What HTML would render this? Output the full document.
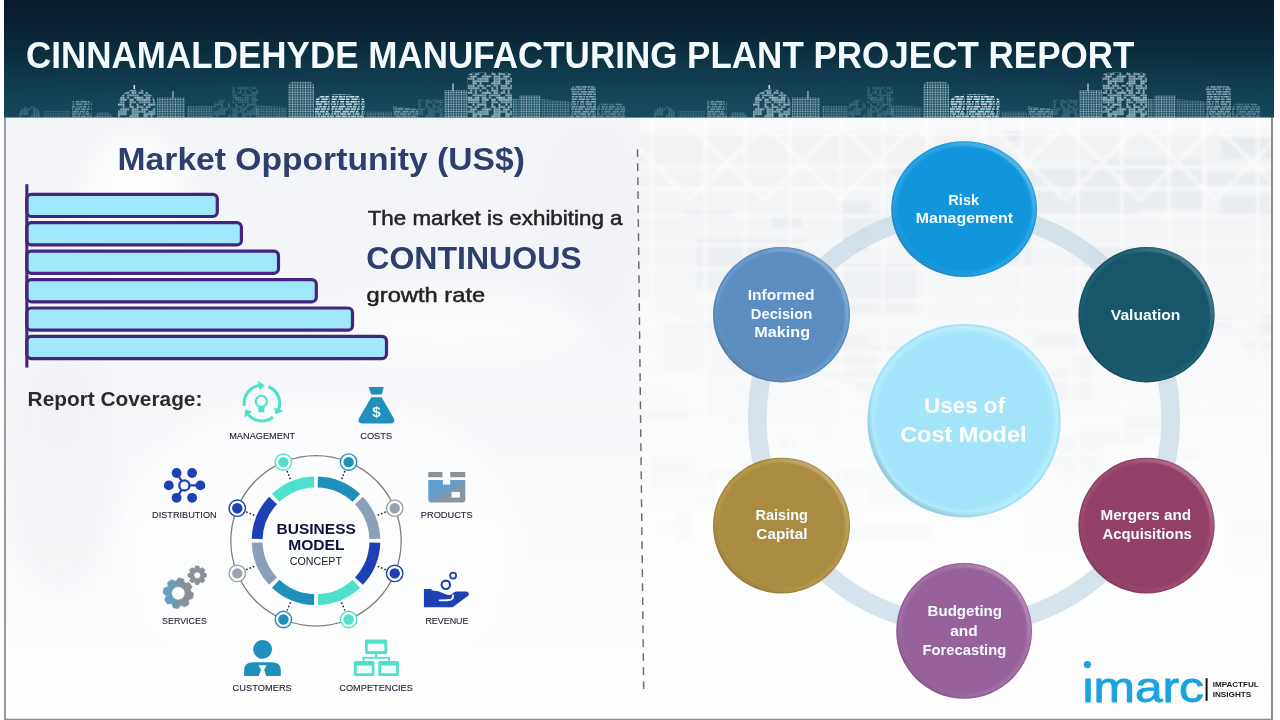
<!DOCTYPE html>
<html lang="en"><head><meta charset="utf-8"><title>Cinnamaldehyde Manufacturing Plant Project Report</title>
<style>
html,body{margin:0;padding:0;background:#fff}
body{width:1280px;height:720px;overflow:hidden;position:relative;font-family:"Liberation Sans",Arial,sans-serif}
svg{position:absolute;left:0;top:0;display:block}
text{font-family:"Liberation Sans",Arial,sans-serif}
.b{font-weight:bold}
</style></head><body>
<svg width="1280" height="720" viewBox="0 0 1280 720">
<defs>
<linearGradient id="ban" x1="0" y1="0" x2="0" y2="1">
<stop offset="0" stop-color="#0a1a2b"/><stop offset="0.3" stop-color="#0b2637"/><stop offset="0.62" stop-color="#0d3647"/><stop offset="1" stop-color="#144658"/>
</linearGradient>
<radialGradient id="banr" cx="0.5" cy="1.1" r="0.75" gradientTransform="matrix(1 0 0 1 0 0)">
<stop offset="0" stop-color="#1a5565" stop-opacity="0.45"/><stop offset="1" stop-color="#1d5a6a" stop-opacity="0"/>
</radialGradient>
<linearGradient id="bgl" x1="0" y1="0" x2="0" y2="1">
<stop offset="0" stop-color="#f3f4f7"/><stop offset="0.4" stop-color="#f5f6f9"/><stop offset="0.8" stop-color="#fafbfc"/><stop offset="1" stop-color="#fdfefe"/>
</linearGradient>
<linearGradient id="bgr" x1="0" y1="0" x2="0" y2="1">
<stop offset="0" stop-color="#f0f2f4"/><stop offset="0.25" stop-color="#f5f6f8"/><stop offset="0.6" stop-color="#fbfcfc"/><stop offset="1" stop-color="#fefefe"/>
</linearGradient>

<radialGradient id="c1" cx="0.5" cy="0.5" r="0.5"><stop offset="0" stop-color="#1296db"/><stop offset="0.9" stop-color="#1296db"/><stop offset="0.965" stop-color="#2aa6e6"/><stop offset="1" stop-color="#0f8fd2"/></radialGradient>
<radialGradient id="c2" cx="0.5" cy="0.5" r="0.5"><stop offset="0" stop-color="#17566b"/><stop offset="0.9" stop-color="#17566b"/><stop offset="0.965" stop-color="#1f6377"/><stop offset="1" stop-color="#124a5d"/></radialGradient>
<radialGradient id="c3" cx="0.5" cy="0.5" r="0.5"><stop offset="0" stop-color="#934068"/><stop offset="0.9" stop-color="#934068"/><stop offset="0.965" stop-color="#a04d75"/><stop offset="1" stop-color="#86385d"/></radialGradient>
<radialGradient id="c4" cx="0.5" cy="0.5" r="0.5"><stop offset="0" stop-color="#97619b"/><stop offset="0.9" stop-color="#97619b"/><stop offset="0.965" stop-color="#a671aa"/><stop offset="1" stop-color="#8a558e"/></radialGradient>
<radialGradient id="c5" cx="0.5" cy="0.5" r="0.5"><stop offset="0" stop-color="#a98b42"/><stop offset="0.9" stop-color="#a98b42"/><stop offset="0.965" stop-color="#b6994f"/><stop offset="1" stop-color="#9b7e38"/></radialGradient>
<radialGradient id="c6" cx="0.5" cy="0.5" r="0.5"><stop offset="0" stop-color="#5b8dc0"/><stop offset="0.9" stop-color="#5b8dc0"/><stop offset="0.965" stop-color="#6d9bca"/><stop offset="1" stop-color="#4f81b4"/></radialGradient>
<radialGradient id="c0" cx="0.5" cy="0.5" r="0.5"><stop offset="0" stop-color="#a3e4fa"/><stop offset="0.9" stop-color="#a3e4fa"/><stop offset="0.965" stop-color="#b7ecfd"/><stop offset="1" stop-color="#98dcf4"/></radialGradient>
<linearGradient id="bev" x1="0.12" y1="0.88" x2="0.88" y2="0.12"><stop offset="0" stop-color="#000" stop-opacity="0.13"/><stop offset="0.3" stop-color="#000" stop-opacity="0"/><stop offset="0.7" stop-color="#fff" stop-opacity="0"/><stop offset="1" stop-color="#fff" stop-opacity="0.2"/></linearGradient>
<clipPath id="bclip"><rect x="4" y="1" width="1270" height="116.5"/></clipPath></defs>
<rect width="1280" height="720" fill="#ffffff"/>
<rect x="4" y="116" width="636" height="603" fill="url(#bgl)"/>
<rect x="640" y="116" width="633" height="603" fill="url(#bgr)"/>
<defs><filter id="bl" x="-5%" y="-5%" width="110%" height="110%"><feGaussianBlur stdDeviation="1.6"/></filter>
<filter id="bl2" x="-20%" y="-20%" width="140%" height="140%"><feGaussianBlur stdDeviation="14"/></filter>
<linearGradient id="fadeR" x1="0" y1="0" x2="0" y2="1"><stop offset="0" stop-color="#fff" stop-opacity="0.95"/><stop offset="0.22" stop-color="#fff" stop-opacity="0.7"/><stop offset="0.45" stop-color="#fff" stop-opacity="0.35"/><stop offset="0.8" stop-color="#fff" stop-opacity="0.1"/><stop offset="1" stop-color="#fff" stop-opacity="0"/></linearGradient>
<mask id="mR"><rect x="640" y="117" width="633" height="602" fill="url(#fadeR)"/></mask>
<clipPath id="cR"><rect x="640" y="117" width="631" height="601"/></clipPath>
<clipPath id="cL"><rect x="6" y="118" width="632" height="600"/></clipPath>
</defs>
<g clip-path="url(#cR)"><g mask="url(#mR)"><g filter="url(#bl)">
<path d="M1032 437h110v8h-110zM1169 451h30v8h-30zM1208 173h70v12h-70zM880 168h30v8h-30zM1101 296h30v34h-30zM741 460h30v50h-30zM1029 178h18v8h-18zM772 216h30v12h-30zM822 529h110v12h-110zM754 532h30v34h-30zM828 277h30v12h-30zM806 264h110v50h-110zM642 410h46v8h-46zM835 469h70v20h-70zM756 323h30v8h-30zM801 519h46v34h-46zM651 456h46v34h-46zM1004 129h18v12h-18zM1033 526h18v12h-18zM1226 521h46v50h-46zM864 345h70v8h-70zM1012 453h46v20h-46zM663 522h18v12h-18zM855 382h30v20h-30zM814 420h18v20h-18zM1072 254h18v12h-18zM1094 255h70v12h-70zM1094 159h110v50h-110zM1222 138h110v20h-110zM1161 316h70v12h-70zM675 510h18v34h-18zM851 212h110v12h-110zM1037 456h18v12h-18zM914 188h70v20h-70zM729 512h110v12h-110zM1255 315h70v20h-70zM942 247h70v12h-70zM711 470h110v12h-110zM1035 335h46v12h-46zM696 239h110v50h-110zM868 455h46v50h-46zM1058 444h46v50h-46zM1084 243h70v20h-70zM1125 415h46v20h-46zM1049 369h18v34h-18zM985 230h46v34h-46zM822 335h46v20h-46zM813 270h70v20h-70zM1221 197h70v20h-70zM1243 343h110v12h-110zM765 277h70v20h-70zM1076 427h70v12h-70zM1029 518h110v34h-110zM831 357h46v8h-46zM763 371h110v12h-110zM778 413h18v34h-18zM1257 195h30v8h-30zM840 201h30v50h-30zM662 320h70v50h-70zM685 211h46v8h-46zM861 525h70v8h-70zM1074 355h18v50h-18zM1027 165h110v50h-110zM854 369h46v12h-46zM904 466h110v20h-110zM935 191h70v50h-70zM941 209h30v50h-30zM697 470h18v34h-18zM708 363h110v50h-110zM729 389h110v34h-110z" fill="#d9dee3" opacity="0.4"/>
<path d="M640 134H1272M640 167H1272M640 189H1272M640 216H1272M640 245H1272M640 269H1272M640 301H1272M640 321H1272M640 352H1272M640 380H1272M640 403H1272M640 430H1272M640 454H1272M640 490H1272M640 511H1272M640 544H1272M652 120V385M705 120V572M745 120V388M790 120V458M841 120V492M883 120V475M927 120V478M984 120V524M1022 120V478M1078 120V484M1122 120V556M1169 120V383M1204 120V436M1258 120V503" stroke="#fff" stroke-width="3" fill="none" opacity="0.75"/>
<path d="M620 130L690 200M690 200L760 130M695 130L765 200M765 200L835 130M770 130L840 200M840 200L910 130M845 130L915 200M915 200L985 130M920 130L990 200M990 200L1060 130M995 130L1065 200M1065 200L1135 130M1070 130L1140 200M1140 200L1210 130M1145 130L1215 200M1215 200L1285 130M1220 130L1290 200M1290 200L1360 130" stroke="#fff" stroke-width="4" fill="none" opacity="0.6"/>
<path d="M640 300L1272 560V640L640 380Z" fill="#fff" opacity="0.5"/>
</g></g></g>
<rect x="640" y="117" width="631" height="14" fill="#fff" opacity="0.55"/>
<g clip-path="url(#cL)" filter="url(#bl2)">
<ellipse cx="135" cy="215" rx="55" ry="85" fill="#fff" opacity="0.75"/>
<ellipse cx="450" cy="330" rx="140" ry="40" fill="#fff" opacity="0.5"/>
<ellipse cx="320" cy="545" rx="200" ry="150" fill="#fff" opacity="0.55"/>
<ellipse cx="60" cy="470" rx="50" ry="120" fill="#eceef2" opacity="0.4"/>
<ellipse cx="590" cy="230" rx="40" ry="90" fill="#eceef2" opacity="0.4"/>
</g>
<rect x="4" y="117" width="2" height="602" fill="#9a9a9a"/>
<rect x="1271" y="117" width="2" height="602" fill="#8c8c8c"/>
<rect x="4" y="718.7" width="1269" height="1.3" fill="#8e8e8e"/>
<rect x="4" y="0" width="1270" height="117.5" fill="url(#ban)"/>
<rect x="4" y="0" width="1270" height="117.5" fill="url(#banr)"/>
<g clip-path="url(#bclip)"><defs>
<pattern id="pA" width="32.90" height="32.90" patternUnits="userSpaceOnUse"><path d="M0.35 0.35h1.65v1.65h-1.65zM0.35 2.70h1.65v1.65h-1.65zM0.35 7.40h1.65v1.65h-1.65zM0.35 9.75h1.65v1.65h-1.65zM0.35 12.10h1.65v1.65h-1.65zM0.35 14.45h1.65v1.65h-1.65zM0.35 16.80h1.65v1.65h-1.65zM0.35 19.15h1.65v1.65h-1.65zM0.35 23.85h1.65v1.65h-1.65zM0.35 26.20h1.65v1.65h-1.65zM0.35 28.55h1.65v1.65h-1.65zM2.70 2.70h1.65v1.65h-1.65zM2.70 9.75h1.65v1.65h-1.65zM2.70 12.10h1.65v1.65h-1.65zM2.70 14.45h1.65v1.65h-1.65zM2.70 16.80h1.65v1.65h-1.65zM2.70 19.15h1.65v1.65h-1.65zM2.70 21.50h1.65v1.65h-1.65zM2.70 23.85h1.65v1.65h-1.65zM2.70 26.20h1.65v1.65h-1.65zM2.70 28.55h1.65v1.65h-1.65zM2.70 30.90h1.65v1.65h-1.65zM5.05 0.35h1.65v1.65h-1.65zM5.05 5.05h1.65v1.65h-1.65zM5.05 7.40h1.65v1.65h-1.65zM5.05 9.75h1.65v1.65h-1.65zM5.05 12.10h1.65v1.65h-1.65zM5.05 14.45h1.65v1.65h-1.65zM5.05 16.80h1.65v1.65h-1.65zM5.05 28.55h1.65v1.65h-1.65zM5.05 30.90h1.65v1.65h-1.65zM7.40 0.35h1.65v1.65h-1.65zM7.40 2.70h1.65v1.65h-1.65zM7.40 7.40h1.65v1.65h-1.65zM7.40 12.10h1.65v1.65h-1.65zM7.40 19.15h1.65v1.65h-1.65zM7.40 21.50h1.65v1.65h-1.65zM7.40 26.20h1.65v1.65h-1.65zM7.40 30.90h1.65v1.65h-1.65zM9.75 0.35h1.65v1.65h-1.65zM9.75 2.70h1.65v1.65h-1.65zM9.75 7.40h1.65v1.65h-1.65zM9.75 9.75h1.65v1.65h-1.65zM9.75 12.10h1.65v1.65h-1.65zM9.75 19.15h1.65v1.65h-1.65zM9.75 21.50h1.65v1.65h-1.65zM9.75 23.85h1.65v1.65h-1.65zM9.75 26.20h1.65v1.65h-1.65zM9.75 30.90h1.65v1.65h-1.65zM12.10 0.35h1.65v1.65h-1.65zM12.10 2.70h1.65v1.65h-1.65zM12.10 5.05h1.65v1.65h-1.65zM12.10 9.75h1.65v1.65h-1.65zM12.10 12.10h1.65v1.65h-1.65zM12.10 14.45h1.65v1.65h-1.65zM12.10 16.80h1.65v1.65h-1.65zM12.10 19.15h1.65v1.65h-1.65zM12.10 21.50h1.65v1.65h-1.65zM12.10 28.55h1.65v1.65h-1.65zM14.45 0.35h1.65v1.65h-1.65zM14.45 2.70h1.65v1.65h-1.65zM14.45 7.40h1.65v1.65h-1.65zM14.45 9.75h1.65v1.65h-1.65zM14.45 14.45h1.65v1.65h-1.65zM14.45 16.80h1.65v1.65h-1.65zM14.45 21.50h1.65v1.65h-1.65zM14.45 23.85h1.65v1.65h-1.65zM14.45 26.20h1.65v1.65h-1.65zM14.45 28.55h1.65v1.65h-1.65zM14.45 30.90h1.65v1.65h-1.65zM16.80 0.35h1.65v1.65h-1.65zM16.80 2.70h1.65v1.65h-1.65zM16.80 5.05h1.65v1.65h-1.65zM16.80 7.40h1.65v1.65h-1.65zM16.80 12.10h1.65v1.65h-1.65zM16.80 14.45h1.65v1.65h-1.65zM16.80 19.15h1.65v1.65h-1.65zM16.80 21.50h1.65v1.65h-1.65zM16.80 28.55h1.65v1.65h-1.65zM16.80 30.90h1.65v1.65h-1.65zM19.15 5.05h1.65v1.65h-1.65zM19.15 12.10h1.65v1.65h-1.65zM19.15 14.45h1.65v1.65h-1.65zM19.15 16.80h1.65v1.65h-1.65zM19.15 19.15h1.65v1.65h-1.65zM19.15 23.85h1.65v1.65h-1.65zM19.15 28.55h1.65v1.65h-1.65zM21.50 0.35h1.65v1.65h-1.65zM21.50 2.70h1.65v1.65h-1.65zM21.50 5.05h1.65v1.65h-1.65zM21.50 9.75h1.65v1.65h-1.65zM21.50 12.10h1.65v1.65h-1.65zM21.50 14.45h1.65v1.65h-1.65zM21.50 19.15h1.65v1.65h-1.65zM21.50 21.50h1.65v1.65h-1.65zM21.50 26.20h1.65v1.65h-1.65zM21.50 28.55h1.65v1.65h-1.65zM21.50 30.90h1.65v1.65h-1.65zM23.85 0.35h1.65v1.65h-1.65zM23.85 2.70h1.65v1.65h-1.65zM23.85 5.05h1.65v1.65h-1.65zM23.85 7.40h1.65v1.65h-1.65zM23.85 9.75h1.65v1.65h-1.65zM23.85 12.10h1.65v1.65h-1.65zM23.85 14.45h1.65v1.65h-1.65zM23.85 21.50h1.65v1.65h-1.65zM23.85 26.20h1.65v1.65h-1.65zM23.85 28.55h1.65v1.65h-1.65zM23.85 30.90h1.65v1.65h-1.65zM26.20 0.35h1.65v1.65h-1.65zM26.20 9.75h1.65v1.65h-1.65zM26.20 12.10h1.65v1.65h-1.65zM26.20 14.45h1.65v1.65h-1.65zM26.20 19.15h1.65v1.65h-1.65zM26.20 23.85h1.65v1.65h-1.65zM26.20 26.20h1.65v1.65h-1.65zM28.55 9.75h1.65v1.65h-1.65zM28.55 19.15h1.65v1.65h-1.65zM28.55 26.20h1.65v1.65h-1.65zM28.55 28.55h1.65v1.65h-1.65zM28.55 30.90h1.65v1.65h-1.65zM30.90 0.35h1.65v1.65h-1.65zM30.90 2.70h1.65v1.65h-1.65zM30.90 5.05h1.65v1.65h-1.65zM30.90 7.40h1.65v1.65h-1.65zM30.90 16.80h1.65v1.65h-1.65zM30.90 21.50h1.65v1.65h-1.65zM30.90 23.85h1.65v1.65h-1.65zM30.90 28.55h1.65v1.65h-1.65z" fill="#d4ecf4"/></pattern>
<pattern id="pB" width="2.6" height="2.4" patternUnits="userSpaceOnUse"><rect x="0.55" y="0.45" width="1.45" height="1.4" fill="#d4ecf4"/></pattern>
<pattern id="pC" width="30" height="29.40" patternUnits="userSpaceOnUse"><path d="M0.06 0.40h6.50v1.5h-6.50zM7.36 0.40h5.20v1.5h-5.20zM13.36 0.40h2.60v1.5h-2.60zM17.56 0.40h1.60v1.5h-1.60zM20.06 0.40h6.50v1.5h-6.50zM28.16 0.40h1.44v1.5h-1.44zM1.79 2.85h3.80v1.5h-3.80zM6.49 2.85h2.60v1.5h-2.60zM10.69 2.85h6.50v1.5h-6.50zM17.99 2.85h6.50v1.5h-6.50zM25.29 2.85h3.80v1.5h-3.80zM1.86 5.30h5.20v1.5h-5.20zM7.86 5.30h3.80v1.5h-3.80zM12.56 5.30h3.80v1.5h-3.80zM17.16 5.30h5.20v1.5h-5.20zM23.16 5.30h2.60v1.5h-2.60zM26.66 5.30h2.60v1.5h-2.60zM1.84 7.75h2.60v1.5h-2.60zM5.24 7.75h2.60v1.5h-2.60zM8.74 7.75h3.80v1.5h-3.80zM13.34 7.75h1.60v1.5h-1.60zM15.84 7.75h2.60v1.5h-2.60zM19.24 7.75h5.20v1.5h-5.20zM25.34 7.75h3.80v1.5h-3.80zM1.66 10.20h5.20v1.5h-5.20zM8.46 10.20h6.50v1.5h-6.50zM15.86 10.20h3.80v1.5h-3.80zM21.26 10.20h6.50v1.5h-6.50zM28.66 10.20h0.94v1.5h-0.94zM1.66 12.65h3.80v1.5h-3.80zM7.06 12.65h1.60v1.5h-1.60zM10.26 12.65h3.80v1.5h-3.80zM15.66 12.65h3.80v1.5h-3.80zM20.36 12.65h6.50v1.5h-6.50zM27.66 12.65h1.94v1.5h-1.94zM0.91 15.10h1.60v1.5h-1.60zM3.41 15.10h2.60v1.5h-2.60zM6.81 15.10h1.60v1.5h-1.60zM10.01 15.10h1.60v1.5h-1.60zM12.51 15.10h1.60v1.5h-1.60zM15.71 15.10h6.50v1.5h-6.50zM23.81 15.10h3.80v1.5h-3.80zM28.41 15.10h1.19v1.5h-1.19zM1.65 17.55h3.80v1.5h-3.80zM6.25 17.55h1.60v1.5h-1.60zM8.75 17.55h6.50v1.5h-6.50zM16.85 17.55h1.60v1.5h-1.60zM19.25 17.55h2.60v1.5h-2.60zM22.75 17.55h3.80v1.5h-3.80zM28.15 17.55h1.45v1.5h-1.45zM1.23 20.00h2.60v1.5h-2.60zM4.73 20.00h2.60v1.5h-2.60zM8.13 20.00h5.20v1.5h-5.20zM14.93 20.00h5.20v1.5h-5.20zM20.93 20.00h5.20v1.5h-5.20zM27.03 20.00h2.57v1.5h-2.57zM1.77 22.45h1.60v1.5h-1.60zM4.27 22.45h6.50v1.5h-6.50zM12.37 22.45h6.50v1.5h-6.50zM19.77 22.45h5.20v1.5h-5.20zM25.87 22.45h2.60v1.5h-2.60zM1.44 24.90h1.60v1.5h-1.60zM3.84 24.90h2.60v1.5h-2.60zM7.34 24.90h1.60v1.5h-1.60zM9.84 24.90h6.50v1.5h-6.50zM17.24 24.90h3.80v1.5h-3.80zM22.64 24.90h1.60v1.5h-1.60zM25.14 24.90h4.46v1.5h-4.46zM0.07 27.35h3.80v1.5h-3.80zM5.47 27.35h5.20v1.5h-5.20zM11.57 27.35h5.20v1.5h-5.20zM17.57 27.35h2.60v1.5h-2.60zM20.97 27.35h5.20v1.5h-5.20zM26.97 27.35h2.60v1.5h-2.60z" fill="#d4ecf4"/></pattern>
</defs>
<g id="skyA">
<path d="M19 117.6V114.9A10.5 8.9 0 0 1 40 114.9V117.6Z" fill="url(#pA)" opacity="0.32"/>
<path d="M43 117.6V111H70V117.6Z" fill="url(#pB)" opacity="0.28"/>
<path d="M72 117.6V102.7Q72 99.7 82.0 99.7Q92 99.7 92 102.7V117.6Z" fill="url(#pC)" opacity="0.5"/>
<path d="M94 117.6L98 112H109L113 117.6Z" fill="url(#pB)" opacity="0.5"/>
<path d="M118 117.6V103.9A18.8 15.9 0 0 1 155.5 103.9V117.6Z" fill="url(#pA)" opacity="0.95"/>
<rect x="133.5" y="85" width="1.6" height="4.0" fill="#d4ecf4" opacity="0.95"/>
<path d="M157 117.6V97.5H185V117.6Z" fill="url(#pB)" opacity="0.8"/>
<rect x="172.4" y="91" width="1.1" height="7.5" fill="#d4ecf4" opacity="0.8"/>
<path d="M187 117.6V106H212.5V117.6Z" fill="url(#pB)" opacity="0.5"/>
<path d="M213 117.6V107.4A9.0 7.6 0 0 1 231 107.4V117.6Z" fill="url(#pA)" opacity="0.3"/>
<path d="M232 117.6V86.7H258V117.6Z" fill="url(#pA)" opacity="0.3"/>
<path d="M256 117.6V104.8L287 107.3V117.6Z" fill="url(#pB)" opacity="0.45"/>
<path d="M288 117.6V86.7Q288 81.7 294 81.7H308Q314 81.7 314 86.7V117.6Z" fill="url(#pB)" opacity="0.9"/>
<path d="M315 117.6V101.2Q315 94.2 339.75 94.2Q364.5 94.2 364.5 101.2V117.6Z" fill="url(#pC)" opacity="0.95"/>
<path d="M366 117.6V111.7H392V117.6Z" fill="url(#pB)" opacity="0.5"/>
<path d="M393 117.6V106.5L418 109V117.6Z" fill="url(#pC)" opacity="0.55"/>
<path d="M418 117.6V99.7H443V117.6Z" fill="url(#pA)" opacity="0.3"/>
<path d="M444 117.6V90H467V117.6Z" fill="url(#pB)" opacity="0.88"/>
<rect x="452.4" y="83.5" width="1.2" height="7.5" fill="#d4ecf4" opacity="0.88"/>
<path d="M467.5 117.6V77.5Q467.5 72.5 473.5 72.5H506Q512 72.5 512 77.5V117.6Z" fill="url(#pA)" opacity="1.0"/>
<path d="M512.5 117.6V99H518.5V117.6Z" fill="url(#pB)" opacity="0.7"/>
<path d="M519 117.6V95.3H540.5V117.6Z" fill="url(#pB)" opacity="0.85"/>
<path d="M541.5 117.6V99.0L570 101.5V117.6Z" fill="url(#pB)" opacity="0.55"/>
<path d="M570.5 117.6V90.8Q570.5 85.8 576.5 85.8H590Q596 85.8 596 90.8V117.6Z" fill="url(#pC)" opacity="0.62"/>
<path d="M597 117.6V108.5Q597 103.5 603 103.5H619Q625 103.5 625 108.5V117.6Z" fill="url(#pC)" opacity="0.42"/>
</g>
<use href="#skyA" x="635"/></g>
<text class="b" x="26" y="68" font-size="36.7" fill="#f3fbff" textLength="1108.4" lengthAdjust="spacingAndGlyphs">CINNAMALDEHYDE MANUFACTURING PLANT PROJECT REPORT</text>
<text class="b" x="117.6" y="169.8" font-size="32" fill="#2e3f6e" textLength="407.3" lengthAdjust="spacingAndGlyphs">Market Opportunity (US$)</text>
<rect x="26.8" y="194.3" width="190.5" height="22.2" rx="4.5" fill="#a0e9fb" stroke="#45247f" stroke-width="3.2"/>
<rect x="26.8" y="222.7" width="214.6" height="22.2" rx="4.5" fill="#a0e9fb" stroke="#45247f" stroke-width="3.2"/>
<rect x="26.8" y="251.1" width="251.7" height="22.2" rx="4.5" fill="#a0e9fb" stroke="#45247f" stroke-width="3.2"/>
<rect x="26.8" y="279.6" width="289.5" height="22.2" rx="4.5" fill="#a0e9fb" stroke="#45247f" stroke-width="3.2"/>
<rect x="26.8" y="308.0" width="325.7" height="22.2" rx="4.5" fill="#a0e9fb" stroke="#45247f" stroke-width="3.2"/>
<rect x="26.8" y="336.4" width="359.7" height="22.2" rx="4.5" fill="#a0e9fb" stroke="#45247f" stroke-width="3.2"/>
<rect x="25.3" y="184.2" width="3.1" height="183.4" fill="#45247f"/>
<text x="367.7" y="224.9" font-size="21" fill="#232323" stroke="#232323" stroke-width="0.5" textLength="254.8" lengthAdjust="spacingAndGlyphs">The market is exhibiting a</text>
<text class="b" x="366.3" y="269.3" font-size="31.6" fill="#2e3f6e" textLength="215.4" lengthAdjust="spacingAndGlyphs">CONTINUOUS</text>
<text x="366.6" y="301.5" font-size="21" fill="#232323" stroke="#232323" stroke-width="0.5" textLength="118.6" lengthAdjust="spacingAndGlyphs">growth rate</text>
<text class="b" x="27.6" y="406.2" font-size="21" fill="#2b2b2b" textLength="174.8" lengthAdjust="spacingAndGlyphs">Report Coverage:</text>
<line x1="637.5" y1="149.2" x2="643.7" y2="689.2" stroke="#6a6a6a" stroke-width="1.45" stroke-dasharray="7.9 6.1"/>
<g id="bm">
<circle cx="316.0" cy="540.8" r="85.2" fill="none" stroke="#7c7c7c" stroke-width="1.25"/>
<path d="M317.85 481.93A58.9 58.9 0 0 1 356.32 497.86" fill="none" stroke="#1f90bb" stroke-width="10.9"/>
<path d="M358.94 500.48A58.9 58.9 0 0 1 374.87 538.95" fill="none" stroke="#8ba0b6" stroke-width="10.9"/>
<path d="M374.87 542.65A58.9 58.9 0 0 1 358.94 581.12" fill="none" stroke="#1d40b5" stroke-width="10.9"/>
<path d="M356.32 583.74A58.9 58.9 0 0 1 317.85 599.67" fill="none" stroke="#4fe0cb" stroke-width="10.9"/>
<path d="M314.15 599.67A58.9 58.9 0 0 1 275.68 583.74" fill="none" stroke="#1f90bb" stroke-width="10.9"/>
<path d="M273.06 581.12A58.9 58.9 0 0 1 257.13 542.65" fill="none" stroke="#8ba0b6" stroke-width="10.9"/>
<path d="M257.13 538.95A58.9 58.9 0 0 1 273.06 500.48" fill="none" stroke="#1d40b5" stroke-width="10.9"/>
<path d="M275.68 497.86A58.9 58.9 0 0 1 314.15 481.93" fill="none" stroke="#4fe0cb" stroke-width="10.9"/>
<line x1="344.89" y1="471.05" x2="341.26" y2="479.82" stroke="#1b1b2a" stroke-width="1.5" stroke-dasharray="1.5 2.1"/>
<circle cx="348.60" cy="462.09" r="8.2" fill="#ffffff" stroke="#1f90bb" stroke-width="1.4"/>
<circle cx="348.60" cy="462.09" r="5.2" fill="#1f90bb"/>
<line x1="385.75" y1="511.91" x2="376.98" y2="515.54" stroke="#1b1b2a" stroke-width="1.5" stroke-dasharray="1.5 2.1"/>
<circle cx="394.71" cy="508.20" r="8.2" fill="#ffffff" stroke="#9aa3ad" stroke-width="1.4"/>
<circle cx="394.71" cy="508.20" r="5.2" fill="#9aa3ad"/>
<line x1="385.75" y1="569.69" x2="376.98" y2="566.06" stroke="#1b1b2a" stroke-width="1.5" stroke-dasharray="1.5 2.1"/>
<circle cx="394.71" cy="573.40" r="8.2" fill="#ffffff" stroke="#1d40b5" stroke-width="1.4"/>
<circle cx="394.71" cy="573.40" r="5.2" fill="#1d40b5"/>
<line x1="344.89" y1="610.55" x2="341.26" y2="601.78" stroke="#1b1b2a" stroke-width="1.5" stroke-dasharray="1.5 2.1"/>
<circle cx="348.60" cy="619.51" r="8.2" fill="#ffffff" stroke="#4fe0cb" stroke-width="1.4"/>
<circle cx="348.60" cy="619.51" r="5.2" fill="#4fe0cb"/>
<line x1="287.11" y1="610.55" x2="290.74" y2="601.78" stroke="#1b1b2a" stroke-width="1.5" stroke-dasharray="1.5 2.1"/>
<circle cx="283.40" cy="619.51" r="8.2" fill="#ffffff" stroke="#1f90bb" stroke-width="1.4"/>
<circle cx="283.40" cy="619.51" r="5.2" fill="#1f90bb"/>
<line x1="246.25" y1="569.69" x2="255.02" y2="566.06" stroke="#1b1b2a" stroke-width="1.5" stroke-dasharray="1.5 2.1"/>
<circle cx="237.29" cy="573.40" r="8.2" fill="#ffffff" stroke="#9aa3ad" stroke-width="1.4"/>
<circle cx="237.29" cy="573.40" r="5.2" fill="#9aa3ad"/>
<line x1="246.25" y1="511.91" x2="255.02" y2="515.54" stroke="#1b1b2a" stroke-width="1.5" stroke-dasharray="1.5 2.1"/>
<circle cx="237.29" cy="508.20" r="8.2" fill="#ffffff" stroke="#1d40b5" stroke-width="1.4"/>
<circle cx="237.29" cy="508.20" r="5.2" fill="#1d40b5"/>
<line x1="287.11" y1="471.05" x2="290.74" y2="479.82" stroke="#1b1b2a" stroke-width="1.5" stroke-dasharray="1.5 2.1"/>
<circle cx="283.40" cy="462.09" r="8.2" fill="#ffffff" stroke="#4fe0cb" stroke-width="1.4"/>
<circle cx="283.40" cy="462.09" r="5.2" fill="#4fe0cb"/>
<text class="b" x="276.6" y="533.6" font-size="14.6" fill="#0f1240" textLength="79.2" lengthAdjust="spacingAndGlyphs">BUSINESS</text>
<text class="b" x="288.2" y="550.2" font-size="14.6" fill="#0f1240" textLength="56.4" lengthAdjust="spacingAndGlyphs">MODEL</text>
<text x="289.8" y="564.5" font-size="10" fill="#15152c" textLength="52.2" lengthAdjust="spacingAndGlyphs">CONCEPT</text>
<text x="229.2" y="439.1" font-size="9.2" fill="#1c1c30" stroke="#1c1c30" stroke-width="0.1" textLength="66.0" lengthAdjust="spacingAndGlyphs">MANAGEMENT</text>
<text x="360.2" y="439.1" font-size="9.2" fill="#1c1c30" stroke="#1c1c30" stroke-width="0.1" textLength="32.0" lengthAdjust="spacingAndGlyphs">COSTS</text>
<text x="152.1" y="518.2" font-size="9.2" fill="#1c1c30" stroke="#1c1c30" stroke-width="0.1" textLength="64.5" lengthAdjust="spacingAndGlyphs">DISTRIBUTION</text>
<text x="420.8" y="518.2" font-size="9.2" fill="#1c1c30" stroke="#1c1c30" stroke-width="0.1" textLength="51.9" lengthAdjust="spacingAndGlyphs">PRODUCTS</text>
<text x="162.1" y="623.6" font-size="9.2" fill="#1c1c30" stroke="#1c1c30" stroke-width="0.1" textLength="44.7" lengthAdjust="spacingAndGlyphs">SERVICES</text>
<text x="425.4" y="623.6" font-size="9.2" fill="#1c1c30" stroke="#1c1c30" stroke-width="0.1" textLength="43.1" lengthAdjust="spacingAndGlyphs">REVENUE</text>
<text x="232.6" y="690.9" font-size="9.2" fill="#1c1c30" stroke="#1c1c30" stroke-width="0.1" textLength="59.2" lengthAdjust="spacingAndGlyphs">CUSTOMERS</text>
<text x="339.3" y="690.9" font-size="9.2" fill="#1c1c30" stroke="#1c1c30" stroke-width="0.1" textLength="73.6" lengthAdjust="spacingAndGlyphs">COMPETENCIES</text>
<g fill="none" stroke="#4fe0cb" stroke-width="3.1">
<path d="M244.27 405.68A17.8 17.8 0 0 1 259.42 385.57"/>
<path d="M268.57 386.70A17.8 17.8 0 0 1 278.40 409.87"/>
<path d="M272.86 417.23A17.8 17.8 0 0 1 247.87 414.16"/>
</g>
<path d="M264.68 385.62L257.94 380.75L259.68 390.59Z" fill="#4fe0cb"/>
<path d="M275.73 414.40L283.32 411.00L273.93 407.58Z" fill="#4fe0cb"/>
<path d="M245.28 409.58L244.43 417.86L252.09 411.43Z" fill="#4fe0cb"/>
<circle cx="261.4" cy="401.4" r="5.6" fill="none" stroke="#4fe0cb" stroke-width="2.1"/>
<rect x="258.4" y="406.6" width="6" height="5.6" rx="0.8" fill="#4fe0cb"/>
<path d="M368.7 387.1H383.7L381.8 394.4H371.1Z" fill="#1f90bb"/>
<path d="M371.3 397.2H381.6L393.9 418.6Q395.6 423.4 390.6 423.4H362.2Q357.2 423.4 358.9 418.6Z" fill="#1f90bb"/>
<text class="b" x="376.4" y="417.4" font-size="15" fill="#e8fbff" text-anchor="middle">$</text>
<g stroke="#1d40b5" stroke-width="2.2" fill="none"><path d="M184.4 485.4L176.6 473M184.4 485.4H200.4M184.4 485.4L176.6 497.8"/></g>
<circle cx="176.6" cy="473" r="4.9" fill="#1d40b5"/>
<circle cx="192.1" cy="473" r="4.9" fill="#1d40b5"/>
<circle cx="168.8" cy="485.4" r="4.9" fill="#1d40b5"/>
<circle cx="200.4" cy="485.4" r="4.9" fill="#1d40b5"/>
<circle cx="176.6" cy="497.8" r="4.9" fill="#1d40b5"/>
<circle cx="192.1" cy="497.8" r="4.9" fill="#1d40b5"/>
<circle cx="184.4" cy="485.4" r="5.1" fill="#f4f7fb" stroke="#1d40b5" stroke-width="2.3"/>
<linearGradient id="pg" x1="0" y1="0" x2="1" y2="1"><stop offset="0" stop-color="#5a9fd6"/><stop offset="0.5" stop-color="#6a9cc4"/><stop offset="0.62" stop-color="#8b95a0"/><stop offset="1" stop-color="#8b9199"/></linearGradient>
<rect x="428.3" y="472" width="14.1" height="5.2" fill="#8c9199"/><rect x="450.2" y="472" width="15.1" height="5.2" fill="#8c9199"/>
<path d="M428.3 480.1H465.3V499.6Q465.3 502.6 462.3 502.6H431.3Q428.3 502.6 428.3 499.6Z" fill="url(#pg)"/>
<rect x="442.9" y="479.6" width="7.3" height="5" fill="#f8fafc"/><rect x="451.5" y="491.9" width="8.4" height="5.7" fill="#fbfdff"/>
<linearGradient id="gg" x1="0" y1="0" x2="1" y2="0"><stop offset="0" stop-color="#58a6c4"/><stop offset="0.35" stop-color="#6a9cb2"/><stop offset="0.6" stop-color="#8b9097"/><stop offset="1" stop-color="#8b9097"/></linearGradient>
<path d="M176.07 581.10L178.47 578.10L183.34 578.96L184.56 582.60L185.35 583.10L189.17 582.67L192.00 586.72L190.30 590.16L190.50 591.07L193.50 593.47L192.64 598.34L189.00 599.56L188.50 600.35L188.93 604.17L184.88 607.00L181.44 605.30L180.53 605.50L178.13 608.50L173.26 607.64L172.04 604.00L171.25 603.50L167.43 603.93L164.60 599.88L166.30 596.44L166.10 595.53L163.10 593.13L163.96 588.26L167.60 587.04L168.10 586.25L167.67 582.43L171.72 579.60L175.16 581.30ZM185.10 593.30A6.8 6.8 0 1 0 171.50 593.30A6.8 6.8 0 1 0 185.10 593.30Z" fill="url(#gg)" fill-rule="evenodd" stroke="url(#gg)" stroke-width="0.8" stroke-linejoin="round"/>
<path d="M194.70 568.55L195.69 566.12L198.71 566.12L199.70 568.55L200.20 568.76L202.62 567.74L204.76 569.88L203.74 572.30L203.95 572.80L206.38 573.79L206.38 576.81L203.95 577.80L203.74 578.30L204.76 580.72L202.62 582.86L200.20 581.84L199.70 582.05L198.71 584.48L195.69 584.48L194.70 582.05L194.20 581.84L191.78 582.86L189.64 580.72L190.66 578.30L190.45 577.80L188.02 576.81L188.02 573.79L190.45 572.80L190.66 572.30L189.64 569.88L191.78 567.74L194.20 568.76ZM200.60 575.30A3.4 3.4 0 1 0 193.80 575.30A3.4 3.4 0 1 0 200.60 575.30Z" fill="#8b9097" fill-rule="evenodd" stroke="#8b9097" stroke-width="0.8" stroke-linejoin="round"/>
<path d="M423.9 588.9H431.6V590.6Q438 590.2 443.2 593.2Q447.6 595.6 451.4 594.6Q452.6 592.2 456 591.4L466.6 591.6Q469.2 592.4 468.8 595.2L452.6 607.2H423.9Z" fill="#1d40b5"/>
<path d="M439.6 600.4Q446 600.6 451 599.6Q453.6 598.6 453 595.2" fill="none" stroke="#f4f8ff" stroke-width="1.7" stroke-linecap="round"/>
<circle cx="445.8" cy="584.8" r="4.2" fill="none" stroke="#1d40b5" stroke-width="2.1"/>
<circle cx="453.1" cy="575.6" r="3" fill="none" stroke="#1d40b5" stroke-width="1.8"/>
<circle cx="262.6" cy="649.4" r="9.4" fill="#1f90bb"/>
<path d="M244.1 675.9V670.5Q244.1 662.3 253 662.3H272Q280.8 662.3 280.8 670.5V675.9H266.2L264.2 669.4L266.6 665.2H258.4L261 669.4L258.9 675.9Z" fill="#1f90bb"/>
<g fill="#4fe0cb">
<rect x="365" y="639.4" width="22.2" height="14.5" rx="1.5"/><rect x="353.9" y="661.1" width="20.5" height="15" rx="1.5"/><rect x="378.3" y="661.1" width="20.6" height="15" rx="1.5"/>
<rect x="375.2" y="653.5" width="1.9" height="4.8"/><rect x="362.6" y="656.9" width="27.4" height="1.8"/><rect x="362.6" y="656.9" width="1.8" height="5"/><rect x="388.2" y="656.9" width="1.8" height="5"/>
</g>
<g fill="#f2fdfb"><rect x="367.8" y="643.7" width="16.6" height="7.4"/><rect x="356.7" y="665.6" width="15" height="7.7"/><rect x="381.1" y="665.6" width="15" height="7.7"/></g>
</g>
<circle cx="964" cy="419" r="206.7" fill="none" stroke="#c8dae6" stroke-opacity="0.75" stroke-width="18.6"/>
<ellipse cx="964" cy="420.7" rx="96.7" ry="96.7" fill="url(#c0)"/>
<ellipse cx="964" cy="420.7" rx="94.1" ry="94.1" fill="none" stroke="url(#bev)" stroke-width="4.2"/>
<text class="b" x="924" y="412.7" font-size="22.5" fill="#ffffff" textLength="81" lengthAdjust="spacingAndGlyphs">Uses of</text>
<text class="b" x="900.2" y="441.7" font-size="22.5" fill="#ffffff" textLength="126.3" lengthAdjust="spacingAndGlyphs">Cost Model</text>
<ellipse cx="964.1" cy="209.1" rx="72.9" ry="67.9" fill="url(#c1)"/>
<ellipse cx="964.1" cy="209.1" rx="70.3" ry="65.3" fill="none" stroke="url(#bev)" stroke-width="4.2"/>
<text class="b" x="948.3" y="204.5" font-size="14.6" fill="#f4fbff" textLength="30.9" lengthAdjust="spacingAndGlyphs">Risk</text>
<text class="b" x="915.8" y="223.3" font-size="14.6" fill="#f4fbff" textLength="97.2" lengthAdjust="spacingAndGlyphs">Management</text>
<ellipse cx="1146.5" cy="314.7" rx="68.1" ry="67.7" fill="url(#c2)"/>
<ellipse cx="1146.5" cy="314.7" rx="65.5" ry="65.1" fill="none" stroke="url(#bev)" stroke-width="4.2"/>
<text class="b" x="1110.8" y="320.2" font-size="14.6" fill="#f4fbff" textLength="69.6" lengthAdjust="spacingAndGlyphs">Valuation</text>
<ellipse cx="1146.5" cy="525.6" rx="68.1" ry="67.9" fill="url(#c3)"/>
<ellipse cx="1146.5" cy="525.6" rx="65.5" ry="65.3" fill="none" stroke="url(#bev)" stroke-width="4.2"/>
<text class="b" x="1100.6" y="520.3" font-size="14.6" fill="#f4fbff" textLength="90.5" lengthAdjust="spacingAndGlyphs">Mergers and</text>
<text class="b" x="1102.5" y="539.2" font-size="14.6" fill="#f4fbff" textLength="89.3" lengthAdjust="spacingAndGlyphs">Acquisitions</text>
<ellipse cx="964.1" cy="630.9" rx="67.9" ry="67.9" fill="url(#c4)"/>
<ellipse cx="964.1" cy="630.9" rx="65.3" ry="65.3" fill="none" stroke="url(#bev)" stroke-width="4.2"/>
<text class="b" x="927.6" y="616.2" font-size="14.6" fill="#f4fbff" textLength="74.4" lengthAdjust="spacingAndGlyphs">Budgeting</text>
<text class="b" x="950.3" y="635.8" font-size="14.6" fill="#f4fbff" textLength="27.4" lengthAdjust="spacingAndGlyphs">and</text>
<text class="b" x="922.6" y="655.0" font-size="14.6" fill="#f4fbff" textLength="83.6" lengthAdjust="spacingAndGlyphs">Forecasting</text>
<ellipse cx="781.5" cy="525.6" rx="68.5" ry="67.9" fill="url(#c5)"/>
<ellipse cx="781.5" cy="525.6" rx="65.9" ry="65.3" fill="none" stroke="url(#bev)" stroke-width="4.2"/>
<text class="b" x="755.5" y="520.3" font-size="14.6" fill="#f4fbff" textLength="52.4" lengthAdjust="spacingAndGlyphs">Raising</text>
<text class="b" x="756.3" y="539.2" font-size="14.6" fill="#f4fbff" textLength="51.2" lengthAdjust="spacingAndGlyphs">Capital</text>
<ellipse cx="781.5" cy="314.7" rx="68.5" ry="67.7" fill="url(#c6)"/>
<ellipse cx="781.5" cy="314.7" rx="65.9" ry="65.1" fill="none" stroke="url(#bev)" stroke-width="4.2"/>
<text class="b" x="747.7" y="299.7" font-size="14.6" fill="#f4fbff" textLength="66.8" lengthAdjust="spacingAndGlyphs">Informed</text>
<text class="b" x="750.8" y="318.5" font-size="14.6" fill="#f4fbff" textLength="61.4" lengthAdjust="spacingAndGlyphs">Decision</text>
<text class="b" x="754.3" y="337.4" font-size="14.6" fill="#f4fbff" textLength="55.9" lengthAdjust="spacingAndGlyphs">Making</text>
<clipPath id="lgc"><rect x="1075" y="677.5" width="140" height="40"/></clipPath>
<text clip-path="url(#lgc)" x="1082.4" y="701.7" font-size="42.5" fill="#1aa3e0" stroke="#1aa3e0" stroke-width="0.9" stroke-linejoin="round" textLength="121.6" lengthAdjust="spacingAndGlyphs">imarc</text>
<circle cx="1087.4" cy="664.6" r="3.6" fill="#1aa3e0"/>
<rect x="1205.6" y="678.2" width="2" height="22.7" fill="#111"/>
<text class="b" x="1212.7" y="687.4" font-size="8" fill="#1a1a1a" textLength="46" lengthAdjust="spacingAndGlyphs">IMPACTFUL</text>
<text class="b" x="1212.7" y="697.1" font-size="8" fill="#1a1a1a" textLength="38.6" lengthAdjust="spacingAndGlyphs">INSIGHTS</text>
</svg>
</body></html>
